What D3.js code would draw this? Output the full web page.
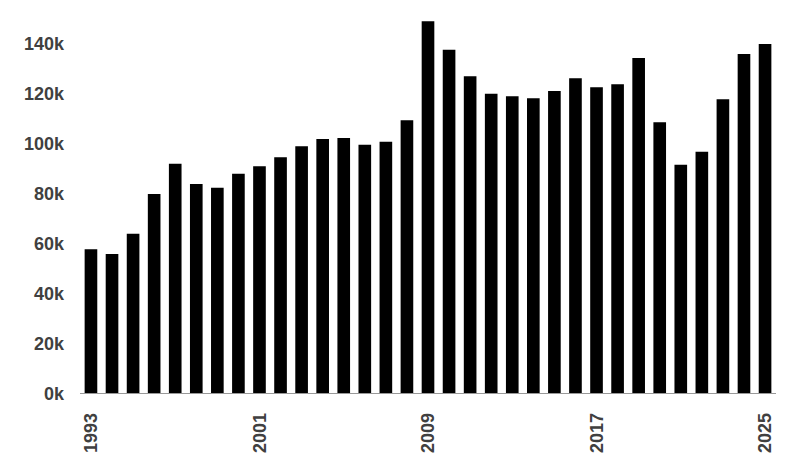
<!DOCTYPE html>
<html><head><meta charset="utf-8">
<script src="https://cdn.jsdelivr.net/npm/d3@7"></script>
<style>body{margin:0;background:#fff}svg{display:block}</style>
</head><body><svg id="c" width="800" height="464"></svg>
<script>
const years = d3.range(1993, 2026).map(String);
const values = [57.5, 55.6, 63.7, 79.6, 91.7, 83.6, 82.1, 87.7, 90.7, 94.3, 98.7, 101.6, 102.0, 99.3, 100.5, 109.1, 148.7, 137.3, 126.7, 119.7, 118.7, 117.9, 120.8, 125.9, 122.3, 123.5, 134.0, 108.3, 91.3, 96.5, 117.5, 135.6, 139.6];
const yTicks = [0, 20, 40, 60, 80, 100, 120, 140];
const xTickLabels = ["1993", "2001", "2009", "2017", "2025"];

(function () {
const svg = d3.select("#c");
const mLeft = 80, mRight = 776, mBottom = 393;
const x = d3.scaleBand().domain(years).range([mLeft, mRight]).paddingInner(0.4).paddingOuter(0.22);
const y = d3.scaleLinear().domain([0, 150]).range([mBottom, mBottom - 150 * 2.5]);

svg.append("g").selectAll("rect").data(values).join("rect")
  .attr("x", (d, i) => x(years[i]))
  .attr("width", x.bandwidth())
  .attr("y", d => y(d))
  .attr("height", d => y(0) - y(d))
  .attr("fill", "#000");

svg.append("line").attr("x1", mLeft).attr("x2", mRight).attr("y1", mBottom + 0.5).attr("y2", mBottom + 0.5)
  .attr("stroke", "#999").attr("stroke-width", 1);

const yAxis = d3.axisLeft(y).tickValues(yTicks).tickFormat(d => d + "k").tickSize(0).tickPadding(0);
const gy = svg.append("g").attr("transform", `translate(64,0)`).call(yAxis);
gy.select(".domain").remove();
gy.selectAll("text").attr("font-family", "Liberation Sans, Arial, sans-serif").attr("font-size", 18)
  .attr("font-weight", "bold").attr("fill", "#404040").attr("dy", "0.35em");

const xAxis = d3.axisBottom(x).tickValues(xTickLabels).tickSize(0).tickPadding(0);
const gx = svg.append("g").attr("transform", `translate(0,${mBottom})`).call(xAxis);
gx.select(".domain").remove();
gx.selectAll("text").attr("font-family", "Liberation Sans, Arial, sans-serif").attr("font-size", 18)
  .attr("font-weight", "bold").attr("fill", "#404040")
  .attr("text-anchor", "end").attr("transform", "rotate(-90)")
  .attr("x", -20).attr("y", 0).attr("dy", "0.35em");
})();
</script></body></html>
